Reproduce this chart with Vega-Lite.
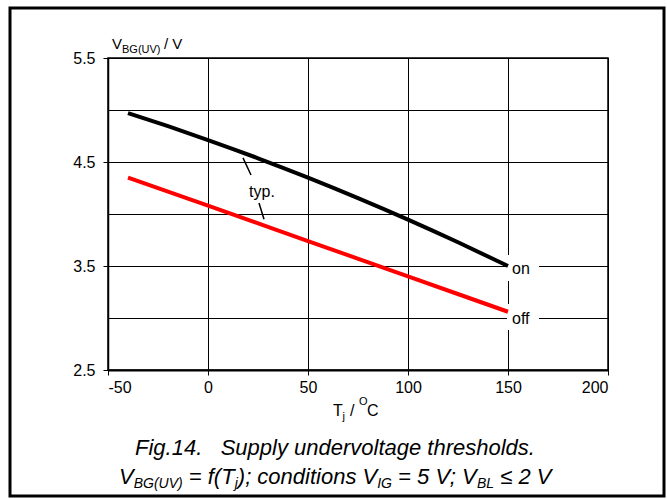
{
  "$schema": "https://vega.github.io/schema/vega-lite/v6.json",
  "width": 500,
  "height": 312,
  "autosize": {"type": "none"},
  "padding": {"left": 108, "top": 58, "right": 59, "bottom": 129},
  "background": "white",
  "config": {
    "font": "Liberation Sans",
    "view": {"stroke": "black", "strokeWidth": 1.5},
    "axis": {"labelFont": "Liberation Sans", "labelFontSize": 16, "labelColor": "black", "tickColor": "black", "domainColor": "black", "gridColor": "black", "gridOpacity": 1, "gridWidth": 1, "tickWidth": 1}
  },
  "datasets": {
    "curves": [
      {"series": "on", "T": -40, "V": 4.97},
      {"series": "on", "T": -20, "V": 4.844},
      {"series": "on", "T": 0, "V": 4.711},
      {"series": "on", "T": 25, "V": 4.536},
      {"series": "on", "T": 50, "V": 4.35},
      {"series": "on", "T": 75, "V": 4.153},
      {"series": "on", "T": 100, "V": 3.946},
      {"series": "on", "T": 125, "V": 3.728},
      {"series": "on", "T": 150, "V": 3.5},
      {"series": "off", "T": -40, "V": 4.35},
      {"series": "off", "T": 0, "V": 4.08},
      {"series": "off", "T": 50, "V": 3.74},
      {"series": "off", "T": 100, "V": 3.4},
      {"series": "off", "T": 150, "V": 3.06}
    ]
  },
  "layer": [
    {
      "data": {"name": "curves"},
      "mark": {"type": "line", "strokeWidth": 4, "opacity": 0},
      "encoding": {
        "x": {"field": "T", "type": "quantitative", "scale": {"domain": [-50, 200], "nice": false, "zero": false},
          "axis": {"values": [-50, 0, 50, 100, 150, 200], "title": null, "tickSize": 5, "labelPadding": 4, "domainWidth": 2, "grid": true,
            "labelExpr": "'' + datum.value"}},
        "y": {"field": "V", "type": "quantitative", "scale": {"domain": [2.5, 5.5], "nice": false, "zero": false},
          "axis": {"values": [2.5, 3, 3.5, 4, 4.5, 5, 5.5], "format": ".1f", "title": null, "tickSize": 5, "labelPadding": 8, "domainWidth": 1.5, "grid": true,
            "labelExpr": "(datum.value * 2) % 2 == 1 ? datum.label : ''",
            "tickOpacity": {"condition": {"test": "(datum.value * 2) % 2 == 1", "value": 1}, "value": 0}}},
        "detail": {"field": "series"}
      }
    },
    {
      "data": {"values": [{}]},
      "mark": {"type": "rect", "fill": "white"},
      "encoding": {"x": {"datum": 149.5, "type": "quantitative"}, "x2": {"datum": 165.5}, "y": {"datum": 3.606, "type": "quantitative"}, "y2": {"datum": 3.356}}
    },
    {
      "data": {"values": [{}]},
      "mark": {"type": "rect", "fill": "white"},
      "encoding": {"x": {"datum": 149.5, "type": "quantitative"}, "x2": {"datum": 165.5}, "y": {"datum": 3.135, "type": "quantitative"}, "y2": {"datum": 2.885}}
    },
    {
      "data": {"name": "curves"},
      "mark": {"type": "line", "strokeWidth": 4, "interpolate": "monotone"},
      "encoding": {
        "x": {"field": "T", "type": "quantitative"},
        "y": {"field": "V", "type": "quantitative"},
        "color": {"field": "series", "type": "nominal", "scale": {"domain": ["on", "off"], "range": ["black", "#ff0000"]}, "legend": null}
      }
    },
    {
      "data": {"values": [{}]},
      "mark": {"type": "rule", "strokeWidth": 1.5, "color": "black"},
      "encoding": {"x": {"datum": 17.5, "type": "quantitative"}, "y": {"datum": 4.54, "type": "quantitative"}, "x2": {"datum": 21.5}, "y2": {"datum": 4.375}}
    },
    {
      "data": {"values": [{}]},
      "mark": {"type": "rule", "strokeWidth": 1.5, "color": "black"},
      "encoding": {"x": {"datum": 25.5, "type": "quantitative"}, "y": {"datum": 4.106, "type": "quantitative"}, "x2": {"datum": 28}, "y2": {"datum": 3.95}}
    },
    {
      "data": {"values": [{}]},
      "mark": {"type": "text", "fontSize": 16, "align": "center", "baseline": "middle", "text": "typ."},
      "encoding": {"x": {"datum": 27, "type": "quantitative"}, "y": {"datum": 4.21, "type": "quantitative"}}
    },
    {
      "data": {"values": [{}]},
      "mark": {"type": "text", "fontSize": 16, "align": "left", "baseline": "middle", "text": "on"},
      "encoding": {"x": {"datum": 152, "type": "quantitative"}, "y": {"datum": 3.471, "type": "quantitative"}}
    },
    {
      "data": {"values": [{}]},
      "mark": {"type": "text", "fontSize": 16, "align": "left", "baseline": "middle", "text": "off"},
      "encoding": {"x": {"datum": 152, "type": "quantitative"}, "y": {"datum": 2.99, "type": "quantitative"}}
    },
    {
      "data": {"values": [{}]},
      "mark": {"type": "text", "fontSize": 15, "align": "left", "baseline": "alphabetic", "text": "V"},
      "encoding": {"x": {"datum": -48, "type": "quantitative"}, "y": {"datum": 5.587, "type": "quantitative"}}
    },
    {
      "data": {"values": [{}]},
      "mark": {"type": "text", "fontSize": 11, "align": "left", "baseline": "alphabetic", "text": "BG(UV)"},
      "encoding": {"x": {"datum": -43, "type": "quantitative"}, "y": {"datum": 5.548, "type": "quantitative"}}
    },
    {
      "data": {"values": [{}]},
      "mark": {"type": "text", "fontSize": 15, "align": "left", "baseline": "alphabetic", "text": "/ V"},
      "encoding": {"x": {"datum": -22, "type": "quantitative"}, "y": {"datum": 5.587, "type": "quantitative"}}
    },
    {
      "data": {"values": [{}]},
      "mark": {"type": "text", "fontSize": 16, "align": "left", "baseline": "alphabetic", "text": "T"},
      "encoding": {"x": {"datum": 62.5, "type": "quantitative"}, "y": {"datum": 2.058, "type": "quantitative"}}
    },
    {
      "data": {"values": [{}]},
      "mark": {"type": "text", "fontSize": 11, "align": "left", "baseline": "alphabetic", "text": "j"},
      "encoding": {"x": {"datum": 67.3, "type": "quantitative"}, "y": {"datum": 2.019, "type": "quantitative"}}
    },
    {
      "data": {"values": [{}]},
      "mark": {"type": "text", "fontSize": 16, "align": "left", "baseline": "alphabetic", "text": "/"},
      "encoding": {"x": {"datum": 71, "type": "quantitative"}, "y": {"datum": 2.058, "type": "quantitative"}}
    },
    {
      "data": {"values": [{}]},
      "mark": {"type": "text", "fontSize": 11, "align": "left", "baseline": "alphabetic", "text": "O"},
      "encoding": {"x": {"datum": 75.5, "type": "quantitative"}, "y": {"datum": 2.163, "type": "quantitative"}}
    },
    {
      "data": {"values": [{}]},
      "mark": {"type": "text", "fontSize": 16, "align": "left", "baseline": "alphabetic", "text": "C"},
      "encoding": {"x": {"datum": 79.5, "type": "quantitative"}, "y": {"datum": 2.058, "type": "quantitative"}}
    },
    {
      "data": {"values": [{}]},
      "mark": {"type": "text", "fontSize": 22, "fontStyle": "italic", "align": "center", "baseline": "alphabetic", "text": "Fig.14.\u00a0\u00a0\u00a0Supply undervoltage thresholds."},
      "encoding": {"x": {"datum": 63.5, "type": "quantitative"}, "y": {"datum": 1.683, "type": "quantitative"}}
    },
    {
      "data": {"values": [{}]},
      "mark": {"type": "text", "fontSize": 22, "fontStyle": "italic", "align": "left", "baseline": "alphabetic", "text": "V"},
      "encoding": {"x": {"datum": -44.5, "type": "quantitative"}, "y": {"datum": 1.404, "type": "quantitative"}}
    },
    {
      "data": {"values": [{}]},
      "mark": {"type": "text", "fontSize": 14, "fontStyle": "italic", "align": "left", "baseline": "alphabetic", "text": "BG(UV)"},
      "encoding": {"x": {"datum": -37.15, "type": "quantitative"}, "y": {"datum": 1.365, "type": "quantitative"}}
    },
    {
      "data": {"values": [{}]},
      "mark": {"type": "text", "fontSize": 22, "fontStyle": "italic", "align": "left", "baseline": "alphabetic", "text": "= f(T"},
      "encoding": {"x": {"datum": -9.6, "type": "quantitative"}, "y": {"datum": 1.404, "type": "quantitative"}}
    },
    {
      "data": {"values": [{}]},
      "mark": {"type": "text", "fontSize": 14, "fontStyle": "italic", "align": "left", "baseline": "alphabetic", "text": "j"},
      "encoding": {"x": {"datum": 13.35, "type": "quantitative"}, "y": {"datum": 1.365, "type": "quantitative"}}
    },
    {
      "data": {"values": [{}]},
      "mark": {"type": "text", "fontSize": 22, "fontStyle": "italic", "align": "left", "baseline": "alphabetic", "text": "); conditions V"},
      "encoding": {"x": {"datum": 14.9, "type": "quantitative"}, "y": {"datum": 1.404, "type": "quantitative"}}
    },
    {
      "data": {"values": [{}]},
      "mark": {"type": "text", "fontSize": 14, "fontStyle": "italic", "align": "left", "baseline": "alphabetic", "text": "IG"},
      "encoding": {"x": {"datum": 84.6, "type": "quantitative"}, "y": {"datum": 1.365, "type": "quantitative"}}
    },
    {
      "data": {"values": [{}]},
      "mark": {"type": "text", "fontSize": 22, "fontStyle": "italic", "align": "left", "baseline": "alphabetic", "text": "= 5 V; V"},
      "encoding": {"x": {"datum": 95.05, "type": "quantitative"}, "y": {"datum": 1.404, "type": "quantitative"}}
    },
    {
      "data": {"values": [{}]},
      "mark": {"type": "text", "fontSize": 14, "fontStyle": "italic", "align": "left", "baseline": "alphabetic", "text": "BL"},
      "encoding": {"x": {"datum": 134.5, "type": "quantitative"}, "y": {"datum": 1.365, "type": "quantitative"}}
    },
    {
      "data": {"values": [{}]},
      "mark": {"type": "text", "fontSize": 22, "fontStyle": "italic", "align": "left", "baseline": "alphabetic", "text": "≤ 2 V"},
      "encoding": {"x": {"datum": 146.1, "type": "quantitative"}, "y": {"datum": 1.404, "type": "quantitative"}}
    },
    {
      "data": {"values": [{}]},
      "mark": {"type": "rect", "fillOpacity": 0, "stroke": "black", "strokeWidth": 3},
      "encoding": {"x": {"datum": -99, "type": "quantitative"}, "x2": {"datum": 228}, "y": {"datum": 5.98, "type": "quantitative"}, "y2": {"datum": 1.288}}
    }
  ]
}
